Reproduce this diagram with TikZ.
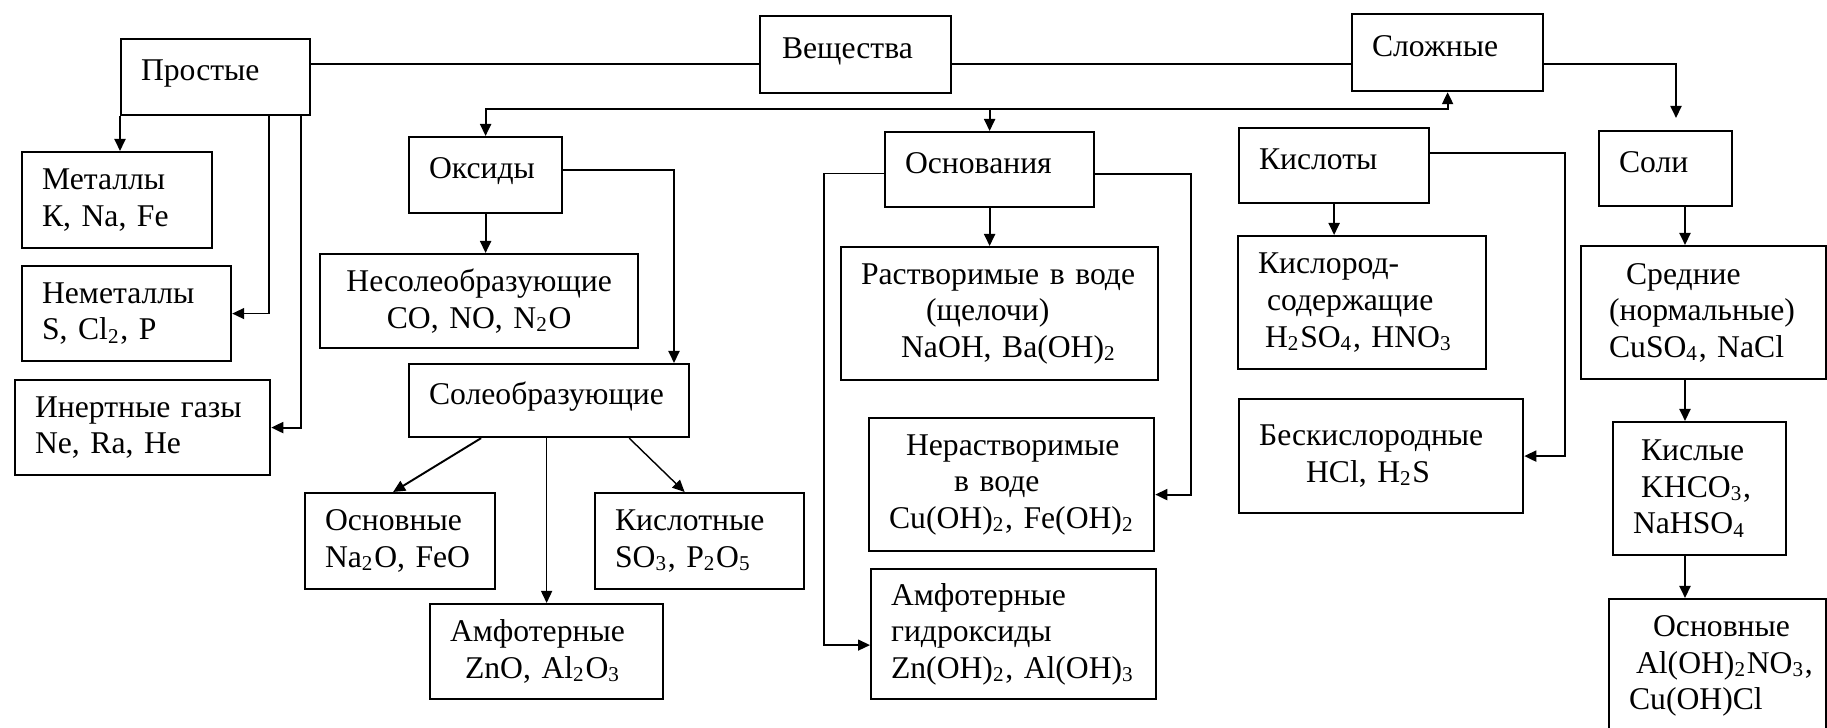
\documentclass[tikz,border=0pt]{standalone}
\usepackage{fontspec}
\setmainfont{Liberation Serif}
\usetikzlibrary{arrows.meta}
\tikzset{
  box/.style={draw, line width=0.6pt, anchor=north west, align=left, inner xsep=0.2cm, inner ysep=0pt},
  head/.style={text height=0.22cm, text depth=0.15cm},
  wire/.style={line width=0.55pt},
}
\begin{document}
\begin{tikzpicture}[x=0.01cm, y=-0.01cm, >={Triangle[length=0.12cm, width=0.11cm]}, font=\fontsize{9}{10.4}\selectfont]
\useasboundingbox (0,0) rectangle (1827,728);
\clip (0,0) rectangle (1827,728);
% top row
\node[box, head, text width=1.49cm, minimum height=0.76cm] (prost) at (120,38) {Простые};
\node[box, head, inner xsep=0.22cm, text width=1.47cm, minimum height=0.77cm] (vesh) at (759,15) {Вещества};
\node[box, head, text width=1.51cm, minimum height=0.77cm] (slozh) at (1351,13) {Сложные};
% simple substances
\node[box, text width=1.50cm, minimum height=0.96cm] (met) at (21,151) {Металлы\\К, Na, Fe};
\node[box, text width=1.69cm, minimum height=0.95cm] (nemet) at (21,265) {Неметаллы\\S, Cl\textsubscript{2}, P};
\node[box, text width=2.15cm, minimum height=0.95cm] (inert) at (14,379) {Инертные газы\\Ne, Ra, He};
% oxides
\node[box, head, text width=1.13cm, minimum height=0.76cm] (oks) at (408,136) {Оксиды};
\node[box, align=center, text width=2.78cm, minimum height=0.94cm] (nesol) at (319,253) {Несолеобразующие\\CO, NO, N\textsubscript{2}O};
\node[box, head, text width=2.40cm, minimum height=0.73cm] (sol) at (408,363) {Солеобразующие};
\node[box, text width=1.50cm, minimum height=0.96cm] (osnok) at (304,492) {Основные\\Na\textsubscript{2}O, FeO};
\node[box, text width=1.69cm, minimum height=0.96cm] (kisok) at (594,492) {Кислотные\\SO\textsubscript{3}, P\textsubscript{2}O\textsubscript{5}};
\node[box, text width=1.93cm, minimum height=0.95cm] (amfok) at (429,603) {Амфотерные\\\hspace*{0.15cm}ZnO, Al\textsubscript{2}O\textsubscript{3}};
% bases
\node[box, head, text width=1.69cm, minimum height=0.75cm] (osnov) at (884,131) {Основания};
\node[box, text width=2.77cm, minimum height=1.33cm] (rastv) at (840,246) {Растворимые в воде\\\hspace*{0.65cm}(щелочи)\\\hspace*{0.4cm}NaOH, Ba(OH)\textsubscript{2}};
\node[box, inner xsep=0.1cm, text width=2.65cm, minimum height=1.33cm] (nerastv) at (868,417) {\hspace*{0.27cm}Нерастворимые\\\hspace*{0.75cm}в воде\\\hspace*{0.1cm}Cu(OH)\textsubscript{2}, Fe(OH)\textsubscript{2}};
\node[box, text width=2.45cm, minimum height=1.30cm] (amfgid) at (870,568) {Амфотерные\\гидроксиды\\Zn(OH)\textsubscript{2}, Al(OH)\textsubscript{3}};
% acids
\node[box, head, text width=1.50cm, minimum height=0.75cm] (kisl) at (1238,127) {Кислоты};
\node[box, text width=2.08cm, minimum height=1.33cm] (kislsod) at (1237,235) {Кислород-\\\hspace*{0.09cm}содержащие\\\hspace*{0.07cm}H\textsubscript{2}SO\textsubscript{4}, HNO\textsubscript{3}};
\node[box, text width=2.44cm, minimum height=1.14cm] (beskisl) at (1238,398) {Бескислородные\\\hspace*{0.47cm}HCl, H\textsubscript{2}S};
% salts
\node[box, head, text width=0.93cm, minimum height=0.75cm] (soli) at (1598,130) {Соли};
\node[box, inner xsep=0.28cm, text width=1.89cm, minimum height=1.33cm] (sredn) at (1580,245) {\hspace*{0.17cm}Средние\\(нормальные)\\CuSO\textsubscript{4}, NaCl};
\node[box, text width=1.33cm, minimum height=1.33cm] (kisle) at (1612,421) {\hspace*{0.08cm}Кислые\\\hspace*{0.08cm}KHCO\textsubscript{3},\\NaHSO\textsubscript{4}};
\node[box, text width=1.77cm, minimum height=1.34cm] (osnsol) at (1608,598) {\hspace*{0.24cm}Основные\\\hspace*{0.07cm}Al(OH)\textsubscript{2}NO\textsubscript{3},\\Cu(OH)Cl};
% connectors
\coordinate (bus) at (0,64);
\coordinate (rail) at (0,109);
\coordinate (saltx) at (1685,0);
\draw[wire] (prost.east |- bus) -- (vesh.west |- bus);
\draw[wire] (vesh.east |- bus) -- (slozh.west |- bus);
\draw[wire, ->, shorten >=0.12cm] (slozh.east |- bus) -| (soli.north -| 1676,0);
\draw[wire, <->] (oks.north) -- (oks.north |- rail) -- (slozh.south |- rail) -- (slozh.south);
\draw[wire, ->] (osnov.north |- rail) -- (osnov.north);
\draw[wire, ->] (prost.south west) -- (prost.south west |- met.north);
\draw[thin, ->] (prost.south -| 269,0) |- (nemet.east);
\draw[wire, ->] (prost.south -| 301,0) |- (inert.east);
\draw[wire, ->] (oks.south) -- (oks.south |- nesol.north);
\draw[wire, ->] ([yshift=0.05cm]oks.east) -| (sol.north -| 674,0);
\draw[wire, ->] ([xshift=-0.68cm]sol.south) -- ([xshift=-0.07cm]osnok.north);
\draw[thin, ->] (sol.south -| amfok.north) -- (amfok.north);
\draw[thin, ->] ([xshift=0.8cm]sol.south) -- ([xshift=-0.15cm]kisok.north);
\draw[wire, ->] (osnov.south) -- (osnov.south |- rastv.north);
\draw[wire, ->] ([yshift=-0.04cm]osnov.east) -| ([xshift=0.36cm, yshift=-0.1cm]nerastv.east) -- ([yshift=-0.1cm]nerastv.east);
\draw[thin, ->] ([yshift=-0.04cm]osnov.west) -| ([xshift=-0.46cm, yshift=-0.11cm]amfgid.west) -- ([yshift=-0.11cm]amfgid.west);
\draw[wire, ->] (kisl.south) -- (kisl.south |- kislsod.north);
\draw[wire, ->] ([yshift=0.125cm]kisl.east) -| ([xshift=0.41cm]beskisl.east) -- (beskisl.east);
\draw[wire, ->] (soli.south -| saltx) -- (sredn.north -| saltx);
\draw[wire, ->] (sredn.south -| saltx) -- (kisle.north -| saltx);
\draw[wire, ->] (kisle.south -| saltx) -- (osnsol.north -| saltx);
\end{tikzpicture}
\end{document}
